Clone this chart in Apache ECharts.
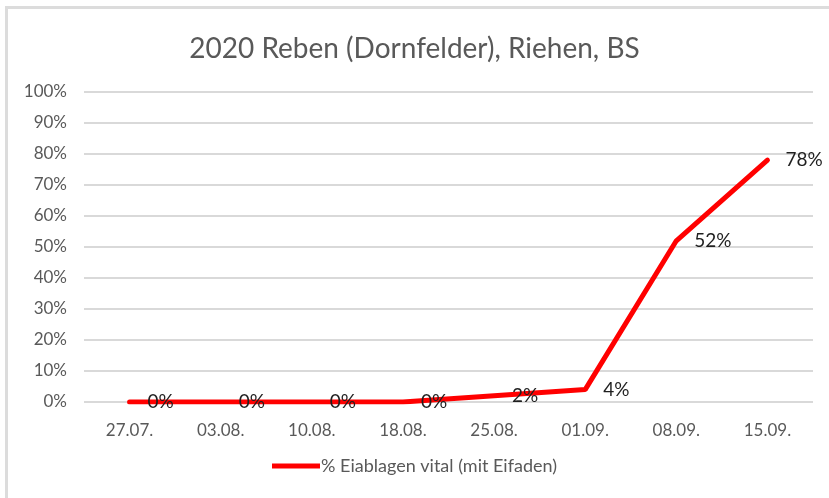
<!DOCTYPE html>
<html>
<head>
<meta charset="utf-8">
<script src="https://cdn.jsdelivr.net/npm/echarts@6/dist/echarts.min.js"></script>
<style>
  html, body { margin: 0; padding: 0; background: #fff; }
  #frame {
    position: absolute; left: 5px; top: 6px; width: 840px; height: 520px;
    border-left: 3px solid #dcdcdc; border-top: 3px solid #dcdcdc;
  }
  #chart { position: absolute; left: 0; top: 0; width: 829px; height: 498px; }
</style>
</head>
<body>
<div id="frame"></div>
<div id="chart"></div>
<script>
// Daten
const titleText = '2020 Reben (Dornfelder), Riehen, BS'
const seriesName = '% Eiablagen vital (mit Eifaden)'
const dates = ['27.07.', '03.08.', '10.08.', '18.08.', '25.08.', '01.09.', '08.09.', '15.09.']
const vital = [0, 0, 0, 0, 2, 4, 52, 78]

const font = 'Lato'
const grey = '#595959'

let myChart = echarts.init(document.getElementById('chart'))
myChart.setOption({
  animation: false,
  title: {
    text: titleText,
    left: 'center',
    top: 30,
    textStyle: { fontFamily: font, fontSize: 28, fontWeight: 'normal', color: grey }
  },
  legend: {
    data: [{ name: seriesName, icon: 'rect' }],
    bottom: 18,
    left: 'center',
    itemWidth: 48,
    itemHeight: 5,
    itemGap: 4,
    textStyle: { fontFamily: font, fontSize: 18, color: grey, padding: [0, 0, 0, -4] }
  },
  grid: { left: 84, right: 16, top: 92, bottom: 96, containLabel: false },
  xAxis: {
    type: 'category',
    data: dates,
    axisLine: { show: false },
    axisTick: { show: false },
    axisLabel: { fontFamily: font, fontSize: 17, color: grey, margin: 20 }
  },
  yAxis: {
    type: 'value',
    min: 0,
    max: 100,
    interval: 10,
    axisLine: { show: false },
    axisTick: { show: false },
    splitLine: { lineStyle: { color: '#d9d9d9', width: 2 } },
    axisLabel: { fontFamily: font, fontSize: 17, color: grey, margin: 17, formatter: '{value}%' }
  },
  series: [{
    name: seriesName,
    type: 'line',
    data: vital,
    symbol: 'circle',
    symbolSize: 0,
    showSymbol: true,
    itemStyle: { color: '#ff0000' },
    lineStyle: { color: '#ff0000', width: 5, cap: 'round' },
    label: {
      show: true,
      position: 'right',
      distance: 18,
      formatter: '{c}%',
      fontFamily: font,
      fontSize: 19,
      color: '#1f1f1f'
    }
  }]
})
</script>
</body>
</html>
